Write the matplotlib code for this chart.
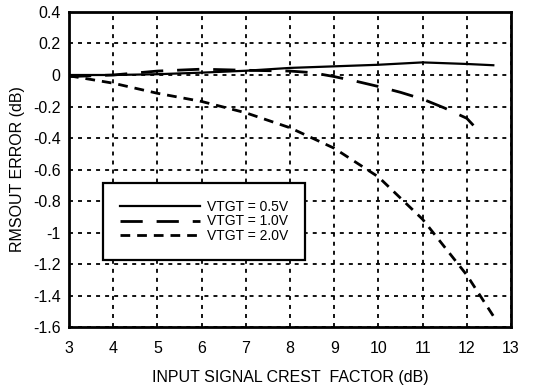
import matplotlib.pyplot as plt

plt.rcParams['font.family'] = ['Liberation Sans', 'DejaVu Sans']

# crest factor (dB) and RMSOUT error (dB) for each VTGT setting
cf_05 = [3, 4, 5, 6, 7, 8, 9, 10, 11, 12, 12.6]
err_05 = [0.0, 0.0, 0.005, 0.015, 0.027, 0.045, 0.055, 0.065, 0.08, 0.07, 0.062]

cf_10 = [3, 4, 5, 6, 7, 8, 8.5, 9, 9.5, 10, 10.5, 11, 11.5, 12, 12.15]
err_10 = [-0.01, 0.0, 0.025, 0.037, 0.03, 0.025, 0.015, -0.01, -0.04, -0.073, -0.11, -0.153, -0.21, -0.275, -0.32]

cf_20 = [3, 4, 5, 6, 7, 8, 9, 10, 11, 12, 12.6]
err_20 = [-0.005, -0.052, -0.116, -0.168, -0.24, -0.335, -0.465, -0.647, -0.916, -1.27, -1.53]

labels = ['VTGT = 0.5V', 'VTGT = 1.0V', 'VTGT = 2.0V']
xticks = [3, 4, 5, 6, 7, 8, 9, 10, 11, 12, 13]
yticks = [0.4, 0.2, 0, -0.2, -0.4, -0.6, -0.8, -1, -1.2, -1.4, -1.6]
ytick_labels = ['0.4', '0.2', '0', '-0.2', '-0.4', '-0.6', '-0.8', '-1', '-1.2', '-1.4', '-1.6']

fig = plt.figure(figsize=(5.45, 3.87), dpi=100)
ax = fig.add_axes([0.1266, 0.155, 0.811, 0.814])

ax.plot(cf_05, err_05, color='black', lw=1.6, ls='-', label=labels[0])
ax.plot(cf_10, err_10, color='black', lw=2.0, ls=(0, (8, 5)), label=labels[1])
ax.plot(cf_20, err_20, color='black', lw=2.0, ls=(0, (3.5, 2.5)), label=labels[2])

ax.set_xlim(3, 13)
ax.set_ylim(-1.6, 0.4)
ax.set_xticks(xticks)
ax.set_yticks(yticks)
ax.set_yticklabels(ytick_labels)
ax.tick_params(length=0, labelsize=11.5)
ax.tick_params(axis='x', pad=10)
ax.tick_params(axis='y', pad=6)

ax.grid(True, color='black', lw=1.3, ls=(0, (2.2, 2.8)))
for sp in ax.spines.values():
    sp.set_linewidth(2.0)

ax.set_xlabel('INPUT SIGNAL CREST  FACTOR (dB)', fontsize=11.5, labelpad=10)
ax.set_ylabel('RMSOUT ERROR (dB)', fontsize=11.5, labelpad=6)

leg = ax.legend(loc='upper left', bbox_to_anchor=(0.077, 0.457),
                fontsize=10, handlelength=5.8, handletextpad=0.5,
                labelspacing=0.05, borderpad=1.2, fancybox=False,
                framealpha=1, borderaxespad=0)
leg.get_frame().set_edgecolor('black')
leg.get_frame().set_linewidth(1.6)

fig.savefig('out.png', dpi=100)
